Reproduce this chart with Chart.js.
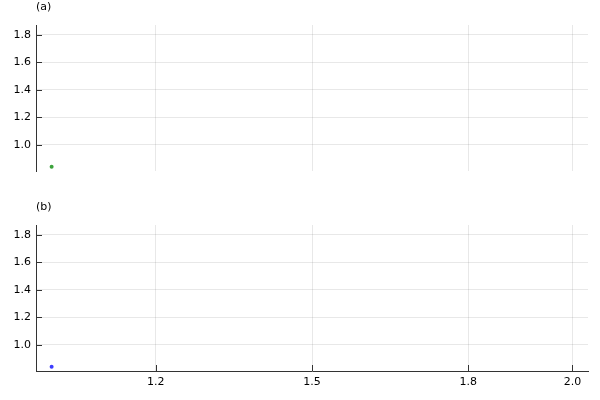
<!DOCTYPE html>
<html>
<head>
<meta charset="utf-8">
<script src="https://cdn.jsdelivr.net/npm/chart.js@4/dist/chart.umd.min.js"></script>
<style>
  body { margin: 0; background: #fff; }
  .panel { position: absolute; left: 0; width: 600px; height: 200px; }
</style>
</head>
<body>
<div class="panel" style="top:0"><canvas id="chartA"></canvas></div>
<div class="panel" style="top:200px"><canvas id="chartB"></canvas></div>
<script>
// data
const xTicks = [1.2, 1.5, 1.8, 2.0]
const yTicks = [1.0, 1.2, 1.4, 1.6, 1.8]
const xRange = [0.97, 2.03]
const yRange = [0.81, 1.87]
const seriesA = [{ x: 1.0, y: 0.84 }]
const seriesB = [{ x: 1.0, y: 0.84 }]

const FONT = { family: 'DejaVu Sans', size: 11 }
const GRID = 'rgba(0,0,0,0.09)'
const AXIS = '#333'

// short tick marks pointing into the plot, plus panel label
const innerTicks = {
  id: 'innerTicks',
  afterDraw(chart, args, opts) {
    const ctx = chart.ctx
    const area = chart.chartArea
    const y = chart.scales.y
    const x = chart.scales.x
    ctx.save()
    ctx.strokeStyle = AXIS
    ctx.lineWidth = 1
    ctx.beginPath()
    y.ticks.forEach(t => {
      const py = Math.round(y.getPixelForValue(t.value)) + 0.5
      ctx.moveTo(area.left, py)
      ctx.lineTo(area.left + 6, py)
    })
    if (opts.xAxis) {
      x.ticks.forEach(t => {
        const px = Math.round(x.getPixelForValue(t.value)) + 0.5
        ctx.moveTo(px, area.bottom)
        ctx.lineTo(px, area.bottom - 6)
      })
    }
    ctx.stroke()
    ctx.fillStyle = '#000'
    ctx.font = '11px "DejaVu Sans"'
    ctx.textBaseline = 'middle'
    ctx.textAlign = 'left'
    ctx.fillText(opts.label, area.left, 7)
    ctx.restore()
  }
}

function makeChart(id, data, color, label, showX) {
  return new Chart(document.getElementById(id), {
    type: 'scatter',
    data: {
      datasets: [{
        data: data,
        backgroundColor: color,
        borderColor: color,
        pointRadius: 2,
        borderWidth: 0
      }]
    },
    plugins: [innerTicks],
    options: {
      responsive: true,
      maintainAspectRatio: false,
      animation: false,
      layout: { padding: { top: 25, right: 12, left: 0, bottom: 0 } },
      plugins: {
        legend: { display: false },
        tooltip: { enabled: false },
        innerTicks: { label: label, xAxis: showX }
      },
      scales: {
        x: {
          type: 'linear',
          min: xRange[0],
          max: xRange[1],
          afterBuildTicks: s => { s.ticks = xTicks.map(v => ({ value: v })) },
          afterFit: s => { s.height = 29 },
          grid: { color: GRID, drawTicks: false },
          border: { display: showX, color: AXIS },
          ticks: {
            display: showX,
            color: '#000',
            font: FONT,
            padding: 5,
            maxRotation: 0,
            callback: v => v.toFixed(1)
          }
        },
        y: {
          min: yRange[0],
          max: yRange[1],
          afterBuildTicks: s => { s.ticks = yTicks.map(v => ({ value: v })) },
          afterFit: s => { s.width = 36 },
          grid: { color: GRID, drawTicks: false },
          border: { color: AXIS },
          ticks: {
            color: '#000',
            font: FONT,
            padding: 5,
            callback: v => v.toFixed(1)
          }
        }
      }
    }
  })
}

makeChart('chartA', seriesA, '#3ca33c', '(a)', false)
makeChart('chartB', seriesB, '#3c3cff', '(b)', true)
</script>
</body>
</html>
